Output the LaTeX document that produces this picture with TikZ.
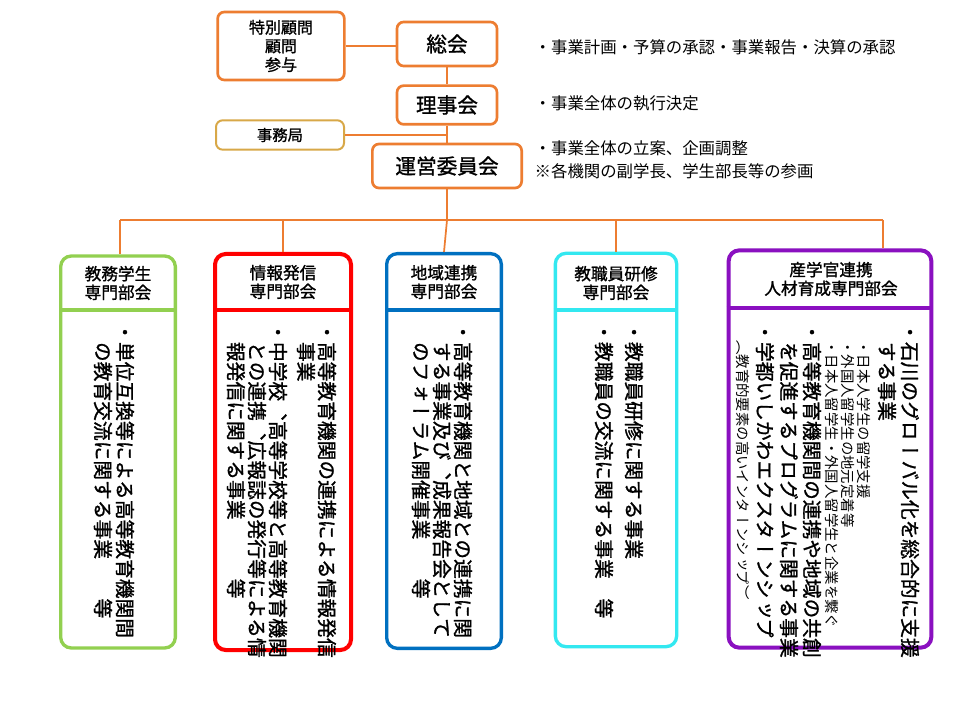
\documentclass[tikz,border=0pt]{standalone}
\usepackage{fontspec}
\setmainfont{Noto Sans CJK JP}
\newfontfamily\jp{Noto Sans CJK JP}
\newfontfamily\jpb[FakeBold=1.2]{Noto Sans CJK JP}
\newfontfamily\vjp[Vertical=RotatedGlyphs,FakeBold=1.2]{Noto Sans CJK JP}
\newfontfamily\vjps[Vertical=RotatedGlyphs]{Noto Sans CJK JP}
\definecolor{org}{HTML}{ED7D31}
\definecolor{tan}{HTML}{D8A848}
\definecolor{gr}{HTML}{92D050}
\definecolor{rd}{HTML}{FF0000}
\definecolor{bl}{HTML}{0070C0}
\definecolor{cy}{HTML}{33E8F0}
\definecolor{pu}{HTML}{8A10C0}
\newcommand\vbig{\vjp\fontsize{14.8}{16}\selectfont}
\newcommand\vsmall{\vjps\fontsize{10.8}{12}\selectfont}
\newcommand\vcol[5]{\node[rotate=-90,anchor=west,inner sep=0pt,font=#4] (#1) at (#2,#3) {#5};}
\tikzset{
 topbox/.style={draw=org,line width=2pt,rounded corners=5pt,align=center,font=\jpb\fontsize{15.5}{18}\selectfont},
 sub/.style={draw=#1,line width=2.5pt,rounded corners=8pt,fill=white},
 head/.style={align=center,font=\jpb\fontsize{12.5}{14}\selectfont},
 link/.style={draw=org,line width=1.3pt},
 note/.style={anchor=west,font=\jp\fontsize{12.3}{17}\selectfont,align=left}
}
\begin{document}
\begin{tikzpicture}[x=0.75pt,y=-0.75pt]
\useasboundingbox[fill=white] (0,0) rectangle (960,720);
% top boxes
\node[topbox,minimum width=75pt,minimum height=33pt] (sokai) at (447,44) {総会};
\node[topbox,minimum width=75pt,minimum height=29pt] (riji) at (447,105) {理事会};
\node[topbox,minimum width=112pt,minimum height=33pt] (unei) at (447,166) {運営委員会};
\node[topbox,minimum width=95pt,minimum height=51pt,inner sep=1pt,font=\jpb\fontsize{12}{14}\selectfont] (komon) at (281,46) {特別顧問\\顧問\\参与};
\node[topbox,draw=tan,line width=1.5pt,minimum width=96pt,minimum height=22pt,font=\jpb\fontsize{11.5}{14}\selectfont] (jimu) at (280,135) {事務局};
% notes
\node[note] (n1) at (530,47) {・事業計画・予算の承認・事業報告・決算の承認};
\node[note] (n2) at (530,103) {・事業全体の執行決定};
\node[note] (n3) at (530,160) {・事業全体の立案、企画調整\\※各機関の副学長、学生部長等の参画};
% sub boxes
\node[sub=gr,minimum width=86pt,minimum height=294pt] (b1) at (118,452) {};
\node[sub=rd,line width=3pt,minimum width=102pt,minimum height=297pt] (b2) at (283,452) {};
\node[sub=bl,minimum width=86pt,minimum height=296pt] (b3) at (444,451) {};
\node[sub=cy,minimum width=91pt,minimum height=295pt] (b4) at (616,450) {};
\node[sub=pu,line width=3pt,minimum width=152pt,minimum height=298pt] (b5) at (830,449) {};
\draw[gr,line width=2.5pt] (b1.west|-0,310) -- (b1.east|-0,310);
\draw[rd,line width=3pt] (b2.west|-0,310) -- (b2.east|-0,310);
\draw[bl,line width=2.5pt] (b3.west|-0,310) -- (b3.east|-0,310);
\draw[cy,line width=2.5pt] (b4.west|-0,310) -- (b4.east|-0,310);
\draw[pu,line width=3pt] (b5.west|-0,308) -- (b5.east|-0,308);
\node[head] (h1) at (118,283) {教務学生\\専門部会};
\node[head] (h2) at (283,282) {情報発信\\専門部会};
\node[head] (h3) at (444,282) {地域連携\\専門部会};
\node[head] (h4) at (616,283) {教職員研修\\専門部会};
\node[head] (h5) at (831,279) {産学官連携\\人材育成専門部会};
% connectors
\coordinate (hub) at (447,220);
\coordinate (hl) at (120,220);
\coordinate (hr) at (883,220);
\coordinate (jj) at (447,135);
\draw[link] (komon.east) -- (sokai.west|-komon.east);
\draw[link] (sokai) -- (riji);
\draw[link] (riji) -- (unei);
\draw[link] (jimu.east) -- (jj);
\draw[link] (unei) -- (hub);
\draw[link] (hl) -- (hr);
\draw[link] (hl) -- (hl|-b1.north);
\draw[link] (283,220) -- (b2.north);
\draw[link] (hub) -- (b3.north);
\draw[link] (616,220) -- (b4.north);
\draw[link] (hr) -- (hr|-b5.north);
% vertical texts
\vcol{g1}{125}{322}{\vbig}{・単位互換等による高等教育機関間}
\vcol{g2}{103}{322}{\vbig}{　の教育交流に関する事業　　等}
\vcol{r1}{327}{322}{\vbig}{・高等教育機関の連携による情報発信}
\vcol{r2}{306}{322}{\vbig}{　事業}
\vcol{r3}{278}{322}{\vbig}{・中学校、高等学校等と高等教育機関}
\vcol{r4}{257}{322}{\vbig}{　との連携、広報誌の発行等による情}
\vcol{r5}{236}{322}{\vbig}{　報発信に関する事業　　　等}
\vcol{l1}{463}{322}{\vbig}{・高等教育機関と地域との連携に関}
\vcol{l2}{442}{322}{\vbig}{　する事業及び、成果報告会として}
\vcol{l3}{421}{322}{\vbig}{　のフォーラム開催事業　　等}
\vcol{c1}{634}{322}{\vbig}{・教職員研修に関する事業}
\vcol{c2}{604}{322}{\vbig}{・教職員の交流に関する事業　等}
\vcol{p1}{910}{322}{\vbig}{・石川のグローバル化を総合的に支援}
\vcol{p2}{887}{322}{\vbig}{　する事業}
\vcol{p3}{864}{340}{\vsmall}{・日本人学生の留学支援}
\vcol{p4}{848}{340}{\vsmall}{・外国人留学生の地元定着等}
\vcol{p5}{832}{340}{\vsmall}{・日本人留学生・外国人留学生と企業を繋ぐ}
\vcol{p6}{812}{322}{\vbig}{・高等教育機関間の連携や地域の共創}
\vcol{p7}{789}{322}{\vbig}{　を促進するプログラムに関する事業}
\vcol{p8}{765}{322}{\vbig}{・学都いしかわエクスターンシップ}
\vcol{p9}{743}{340}{\vsmall}{（教育的要素の高いインターンシップ）}
\end{tikzpicture}
\end{document}
